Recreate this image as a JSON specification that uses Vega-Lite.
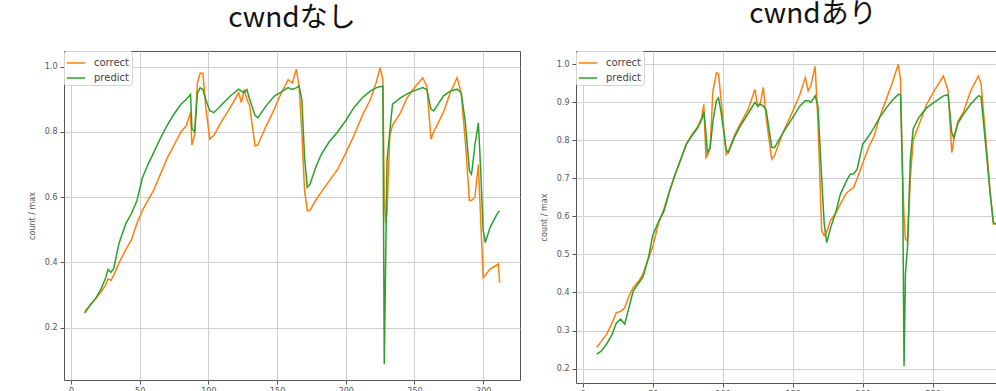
{
  "$schema": "https://vega.github.io/schema/vega-lite/v6.json",
  "background": "white",
  "padding": {"left": 27, "top": 0, "right": 0, "bottom": 0},
  "spacing": 56,
  "bounds": "flush",
  "datasets": {
    "nashi": [
      {"t": 10, "correct": 0.25, "predict": 0.245},
      {"t": 14, "correct": 0.27, "predict": 0.27},
      {"t": 18, "correct": 0.29, "predict": 0.29},
      {"t": 22, "correct": 0.31, "predict": 0.32},
      {"t": 25, "correct": 0.33, "predict": 0.35},
      {"t": 27, "correct": 0.35, "predict": 0.379},
      {"t": 29, "correct": 0.345, "predict": 0.37},
      {"t": 31, "correct": 0.36, "predict": 0.38},
      {"t": 35, "correct": 0.4, "predict": 0.46},
      {"t": 40, "correct": 0.44, "predict": 0.52},
      {"t": 44, "correct": 0.47, "predict": 0.55},
      {"t": 48, "correct": 0.52, "predict": 0.59},
      {"t": 52, "correct": 0.56, "predict": 0.66},
      {"t": 56, "correct": 0.59, "predict": 0.7},
      {"t": 60, "correct": 0.62, "predict": 0.735},
      {"t": 65, "correct": 0.67, "predict": 0.78},
      {"t": 70, "correct": 0.72, "predict": 0.82},
      {"t": 75, "correct": 0.76, "predict": 0.855},
      {"t": 80, "correct": 0.8, "predict": 0.885},
      {"t": 84, "correct": 0.82, "predict": 0.9},
      {"t": 87, "correct": 0.86, "predict": 0.915},
      {"t": 88, "correct": 0.76, "predict": 0.81},
      {"t": 90, "correct": 0.79, "predict": 0.8},
      {"t": 92, "correct": 0.95, "predict": 0.92},
      {"t": 94, "correct": 0.98, "predict": 0.935},
      {"t": 96, "correct": 0.98, "predict": 0.93},
      {"t": 98, "correct": 0.88, "predict": 0.9},
      {"t": 101, "correct": 0.778, "predict": 0.865},
      {"t": 104, "correct": 0.79, "predict": 0.859},
      {"t": 110, "correct": 0.835, "predict": 0.885},
      {"t": 116, "correct": 0.875, "predict": 0.91},
      {"t": 122, "correct": 0.92, "predict": 0.931},
      {"t": 124, "correct": 0.89, "predict": 0.925},
      {"t": 126, "correct": 0.93, "predict": 0.92},
      {"t": 128, "correct": 0.9, "predict": 0.93},
      {"t": 130, "correct": 0.88, "predict": 0.9},
      {"t": 134, "correct": 0.757, "predict": 0.85},
      {"t": 136, "correct": 0.76, "predict": 0.844},
      {"t": 142, "correct": 0.818, "predict": 0.88},
      {"t": 148, "correct": 0.87, "predict": 0.91},
      {"t": 152, "correct": 0.91, "predict": 0.92},
      {"t": 158, "correct": 0.96, "predict": 0.936},
      {"t": 161, "correct": 0.95, "predict": 0.93},
      {"t": 164, "correct": 0.992, "predict": 0.935},
      {"t": 166, "correct": 0.94, "predict": 0.941},
      {"t": 168, "correct": 0.8, "predict": 0.9},
      {"t": 170, "correct": 0.62, "predict": 0.72},
      {"t": 172, "correct": 0.558, "predict": 0.63},
      {"t": 174, "correct": 0.56, "predict": 0.64},
      {"t": 178, "correct": 0.59, "predict": 0.69},
      {"t": 182, "correct": 0.615, "predict": 0.73},
      {"t": 188, "correct": 0.65, "predict": 0.77},
      {"t": 194, "correct": 0.685, "predict": 0.8},
      {"t": 200, "correct": 0.735, "predict": 0.835},
      {"t": 206, "correct": 0.79, "predict": 0.875},
      {"t": 212, "correct": 0.85, "predict": 0.905},
      {"t": 218, "correct": 0.9, "predict": 0.926},
      {"t": 222, "correct": 0.95, "predict": 0.935},
      {"t": 225, "correct": 0.997, "predict": 0.939},
      {"t": 227, "correct": 0.96, "predict": 0.94},
      {"t": 228, "correct": 0.6, "predict": 0.088},
      {"t": 229, "correct": 0.52, "predict": 0.4},
      {"t": 230, "correct": 0.55, "predict": 0.71},
      {"t": 232, "correct": 0.788, "predict": 0.8},
      {"t": 234, "correct": 0.82, "predict": 0.885},
      {"t": 240, "correct": 0.86, "predict": 0.905},
      {"t": 244, "correct": 0.9, "predict": 0.915},
      {"t": 249, "correct": 0.931, "predict": 0.925},
      {"t": 256, "correct": 0.966, "predict": 0.936},
      {"t": 259, "correct": 0.94, "predict": 0.93},
      {"t": 262, "correct": 0.778, "predict": 0.87},
      {"t": 264, "correct": 0.8, "predict": 0.864},
      {"t": 271, "correct": 0.859, "predict": 0.91},
      {"t": 276, "correct": 0.92, "predict": 0.925},
      {"t": 281, "correct": 0.966, "predict": 0.931},
      {"t": 284, "correct": 0.92, "predict": 0.92},
      {"t": 287, "correct": 0.77, "predict": 0.83},
      {"t": 290, "correct": 0.59, "predict": 0.68},
      {"t": 291.5, "correct": 0.59, "predict": 0.67},
      {"t": 294, "correct": 0.6, "predict": 0.76},
      {"t": 296.5, "correct": 0.7, "predict": 0.828},
      {"t": 298, "correct": 0.55, "predict": 0.7},
      {"t": 300, "correct": 0.354, "predict": 0.5},
      {"t": 301.5, "correct": 0.36, "predict": 0.461},
      {"t": 305, "correct": 0.38, "predict": 0.507},
      {"t": 309, "correct": 0.39, "predict": 0.54},
      {"t": 311, "correct": 0.395, "predict": 0.555},
      {"t": 312, "correct": 0.338, "predict": 0.558}
    ],
    "ari": [
      {"t": 10, "correct": 0.255, "predict": 0.238},
      {"t": 13, "correct": 0.27, "predict": 0.245},
      {"t": 17, "correct": 0.29, "predict": 0.264},
      {"t": 21, "correct": 0.32, "predict": 0.29},
      {"t": 24, "correct": 0.347, "predict": 0.32},
      {"t": 27, "correct": 0.35, "predict": 0.33},
      {"t": 30, "correct": 0.36, "predict": 0.317},
      {"t": 33, "correct": 0.39, "predict": 0.36},
      {"t": 36, "correct": 0.413, "predict": 0.404},
      {"t": 40, "correct": 0.43, "predict": 0.425},
      {"t": 43, "correct": 0.448, "predict": 0.44},
      {"t": 47, "correct": 0.49, "predict": 0.492},
      {"t": 50, "correct": 0.52, "predict": 0.55},
      {"t": 54, "correct": 0.58, "predict": 0.585},
      {"t": 58, "correct": 0.62, "predict": 0.614},
      {"t": 62, "correct": 0.665, "predict": 0.667},
      {"t": 66, "correct": 0.71, "predict": 0.71},
      {"t": 70, "correct": 0.75, "predict": 0.75},
      {"t": 74, "correct": 0.79, "predict": 0.79},
      {"t": 78, "correct": 0.815, "predict": 0.812},
      {"t": 82, "correct": 0.835, "predict": 0.832},
      {"t": 85, "correct": 0.86, "predict": 0.855},
      {"t": 86.5, "correct": 0.895, "predict": 0.875},
      {"t": 88, "correct": 0.755, "predict": 0.82},
      {"t": 89, "correct": 0.76, "predict": 0.768},
      {"t": 91, "correct": 0.78, "predict": 0.78},
      {"t": 93, "correct": 0.93, "predict": 0.85},
      {"t": 95.5, "correct": 0.978, "predict": 0.905},
      {"t": 97, "correct": 0.975, "predict": 0.912},
      {"t": 99, "correct": 0.9, "predict": 0.87},
      {"t": 102.5, "correct": 0.763, "predict": 0.775},
      {"t": 104, "correct": 0.77, "predict": 0.768},
      {"t": 108, "correct": 0.81, "predict": 0.805},
      {"t": 112, "correct": 0.84, "predict": 0.834},
      {"t": 118, "correct": 0.88, "predict": 0.87},
      {"t": 123, "correct": 0.934, "predict": 0.9},
      {"t": 125, "correct": 0.89, "predict": 0.89},
      {"t": 127, "correct": 0.9, "predict": 0.895},
      {"t": 129, "correct": 0.939, "predict": 0.89},
      {"t": 131, "correct": 0.86, "predict": 0.88},
      {"t": 135, "correct": 0.75, "predict": 0.782},
      {"t": 137, "correct": 0.76, "predict": 0.781},
      {"t": 143, "correct": 0.82, "predict": 0.82},
      {"t": 150, "correct": 0.877, "predict": 0.86},
      {"t": 155, "correct": 0.92, "predict": 0.89},
      {"t": 159, "correct": 0.965, "predict": 0.904},
      {"t": 161, "correct": 0.93, "predict": 0.905},
      {"t": 163, "correct": 0.945, "predict": 0.9},
      {"t": 166, "correct": 0.995, "predict": 0.917},
      {"t": 168, "correct": 0.85, "predict": 0.89},
      {"t": 170.7, "correct": 0.562, "predict": 0.7},
      {"t": 172.5, "correct": 0.55, "predict": 0.58},
      {"t": 174.3, "correct": 0.56, "predict": 0.531},
      {"t": 177, "correct": 0.59, "predict": 0.57},
      {"t": 181, "correct": 0.61, "predict": 0.614},
      {"t": 184, "correct": 0.632, "predict": 0.658},
      {"t": 188, "correct": 0.66, "predict": 0.69},
      {"t": 191, "correct": 0.67, "predict": 0.711},
      {"t": 193.5, "correct": 0.676, "predict": 0.712},
      {"t": 196, "correct": 0.7, "predict": 0.724},
      {"t": 200, "correct": 0.74, "predict": 0.79},
      {"t": 204, "correct": 0.78, "predict": 0.81},
      {"t": 208, "correct": 0.81, "predict": 0.833},
      {"t": 212, "correct": 0.86, "predict": 0.86},
      {"t": 217, "correct": 0.91, "predict": 0.886},
      {"t": 221, "correct": 0.95, "predict": 0.905},
      {"t": 225.4, "correct": 1.0, "predict": 0.921},
      {"t": 227, "correct": 0.96, "predict": 0.92},
      {"t": 228.5, "correct": 0.7, "predict": 0.7},
      {"t": 229.5, "correct": 0.6, "predict": 0.207},
      {"t": 230.5, "correct": 0.54, "predict": 0.45},
      {"t": 232, "correct": 0.536, "predict": 0.52},
      {"t": 234, "correct": 0.7, "predict": 0.75},
      {"t": 236, "correct": 0.8, "predict": 0.83},
      {"t": 240, "correct": 0.84, "predict": 0.86},
      {"t": 245.7, "correct": 0.895, "predict": 0.886},
      {"t": 251, "correct": 0.93, "predict": 0.9},
      {"t": 257.6, "correct": 0.969, "predict": 0.917},
      {"t": 261, "correct": 0.93, "predict": 0.92},
      {"t": 263.6, "correct": 0.768, "predict": 0.82},
      {"t": 265, "correct": 0.8, "predict": 0.807},
      {"t": 268, "correct": 0.85, "predict": 0.845},
      {"t": 272, "correct": 0.875, "predict": 0.869},
      {"t": 277, "correct": 0.93, "predict": 0.895},
      {"t": 282.6, "correct": 0.969, "predict": 0.917},
      {"t": 284.5, "correct": 0.95, "predict": 0.915},
      {"t": 288, "correct": 0.8, "predict": 0.78},
      {"t": 291, "correct": 0.667, "predict": 0.66},
      {"t": 293.3, "correct": 0.58, "predict": 0.584},
      {"t": 295, "correct": 0.58, "predict": 0.58}
    ]
  },
  "hconcat": [
    {
      "title": {"text": "cwndなし", "offset": 18},
      "width": 456,
      "height": 329,
      "data": {"name": "nashi"},
      "transform": [{"fold": ["correct", "predict"], "as": ["series", "value"]}],
      "mark": {"type": "line", "strokeWidth": 1.5, "clip": true},
      "encoding": {
        "x": {"field": "t", "type": "quantitative", "scale": {"domain": [-5.1, 326.8], "nice": false, "zero": false}, "axis": {"values": [0, 50, 100, 150, 200, 250, 300], "format": "d", "title": null}},
        "y": {"field": "value", "type": "quantitative", "scale": {"domain": [0.04, 1.048], "nice": false, "zero": false}, "axis": {"values": [0.2, 0.4, 0.6, 0.8, 1.0], "format": ".1f", "title": "count / max"}},
        "color": {"field": "series", "type": "nominal", "scale": {"domain": ["correct", "predict"], "range": ["#ff7f0e", "#2ca02c"]}}
      }
    },
    {
      "title": {"text": "cwndあり", "offset": 22, "dx": 2},
      "width": 470,
      "height": 332,
      "data": {"name": "ari"},
      "transform": [{"fold": ["correct", "predict"], "as": ["series", "value"]}],
      "mark": {"type": "line", "strokeWidth": 1.5, "clip": true},
      "encoding": {
        "x": {"field": "t", "type": "quantitative", "scale": {"domain": [-4.8, 330.9], "nice": false, "zero": false}, "axis": {"values": [0, 50, 100, 150, 200, 250, 300], "format": "d", "title": null}},
        "y": {"field": "value", "type": "quantitative", "scale": {"domain": [0.162, 1.035], "nice": false, "zero": false}, "axis": {"values": [0.2, 0.3, 0.4, 0.5, 0.6, 0.7, 0.8, 0.9, 1.0], "format": ".1f", "title": "count / max"}},
        "color": {"field": "series", "type": "nominal", "scale": {"domain": ["correct", "predict"], "range": ["#ff7f0e", "#2ca02c"]}}
      }
    }
  ],
  "resolve": {"scale": {"color": "independent"}, "legend": {"color": "independent"}},
  "config": {
    "view": {"stroke": "#555555", "strokeWidth": 1},
    "title": {"font": "Noto Sans CJK JP", "fontSize": 28, "fontWeight": "normal", "color": "#111111", "anchor": "middle"},
    "axis": {
      "domain": false,
      "grid": true,
      "gridColor": "#cfcfcf",
      "gridWidth": 1,
      "tickColor": "#555555",
      "tickSize": 4,
      "labelFont": "DejaVu Sans",
      "labelFontSize": 8,
      "labelColor": "#555555",
      "labelPadding": 3,
      "titleFont": "DejaVu Sans",
      "titleFontSize": 8,
      "titleFontWeight": "normal",
      "titleColor": "#555555",
      "titlePadding": 8
    },
    "legend": {
      "orient": "top-left",
      "offset": 0,
      "title": null,
      "symbolType": "stroke",
      "symbolSize": 330,
      "symbolStrokeWidth": 1.5,
      "labelFont": "DejaVu Sans",
      "labelFontSize": 10,
      "labelColor": "#444444",
      "labelOffset": 8,
      "padding": 2,
      "rowPadding": 0,
      "fillColor": "rgba(255,255,255,0.9)",
      "strokeColor": "#d5d5d5",
      "cornerRadius": 2
    }
  }
}
